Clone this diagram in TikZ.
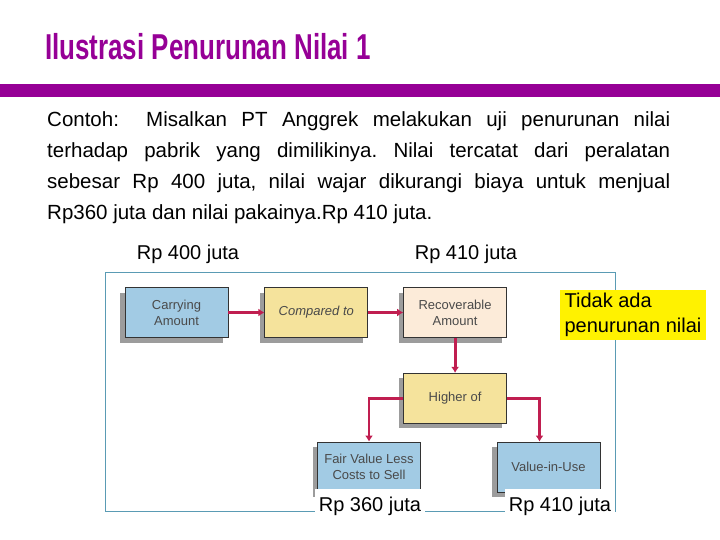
\documentclass[tikz,border=0pt]{standalone}
\usepackage{fontspec}
\setmainfont{Liberation Sans}
\newfontfamily\titlefont[FakeStretch=0.72]{Liberation Sans}
\usepackage{tikz}
\usetikzlibrary{arrows.meta, positioning, shadows}

\definecolor{ungu}{HTML}{960096}
\definecolor{merah}{HTML}{C01E50}
\definecolor{bingkai}{HTML}{5A9BB4}
\definecolor{biru}{HTML}{A2CBE4}
\definecolor{kuning}{HTML}{F5E39C}
\definecolor{krem}{HTML}{FCEBD9}
\definecolor{bayang}{HTML}{9C9C9C}
\definecolor{abu}{HTML}{4A4A4A}

\begin{document}
\begin{tikzpicture}[x=1pt, y=-1pt,
  box/.style={draw=black!80, line width=0.8pt, minimum width=103pt, minimum height=50pt,
              inner sep=0pt, align=center, text=abu, font=\fontsize{13}{16}\selectfont,
              drop shadow={shadow xshift=-5pt, shadow yshift=-5pt, opacity=1, fill=bayang}},
  arr/.style={draw=merah, line width=2.8pt, -{Latex[length=6pt, width=8pt]}},
  lbl/.style={inner sep=0pt, font=\fontsize{20}{24}\selectfont}]

\useasboundingbox (0,0) rectangle (720,540);

% judul
\node [anchor=base west, inner sep=0pt, text=ungu, font=\titlefont\bfseries\fontsize{36}{40}\selectfont] (judul) at (45,59.5) {Ilustrasi Penurunan Nilai 1};
\fill [ungu] (0,84) rectangle (720,97);

% teks contoh
\node [anchor=north west, inner sep=0pt, text width=623pt, align=justify,
       font=\fontsize{20.5}{31}\selectfont] (teks) at (47,111) {%
  \noindent\frenchspacing\hyphenpenalty=10000\tolerance=10000%
  \makebox[99pt][l]{Contoh:}Misalkan PT Anggrek melakukan uji penurunan nilai\linebreak
  terhadap pabrik yang dimilikinya. Nilai tercatat dari peralatan\linebreak
  sebesar Rp 400 juta, nilai wajar dikurangi biaya untuk menjual\linebreak
  Rp360 juta dan nilai pakainya.Rp 410 juta.\par};

% bingkai diagram
\draw [bingkai, line width=1pt] (105,272) rectangle (615,511);

\node [box, fill=biru                 ] (carry) at (176.5,312.5) {Carrying\\Amount};
\node [box, fill=kuning, right=36pt of carry, font=\fontsize{13}{16}\selectfont\itshape] (cmp) {Compared to};
\node [box, fill=krem,   right=35pt of cmp  ] (rec)  {Recoverable\\Amount};
\node [box, fill=kuning, below=35pt of rec  ] (high) {Higher of};
\node [box, fill=biru                 ] (fair) at (369,467) {Fair Value Less\\Costs to Sell};
\node [box, fill=biru                 ] (viu)  at (548.5,467) {Value-in-Use};

\path [arr] (carry) -- (cmp);
\path [arr] (cmp) -- (rec);
\path [arr] (rec) -- (high);
\path [arr] (high.west) -| (fair.north);
\path [arr] (high.east) -| ([xshift=-9pt]viu.north);

% keterangan nilai
\node [lbl] (l400) at (188,254) {Rp 400 juta};
\node [lbl] (l410) at (466,254) {Rp 410 juta};
\node [lbl, fill=yellow, inner xsep=5pt, inner ysep=3pt, align=left, font=\fontsize{20}{25}\selectfont] (tidak) at (633,315) {Tidak ada\\penurunan nilai};
\node [lbl, fill=white, minimum width=110pt, minimum height=34pt] (l360) at (370,506) {Rp 360 juta};
\node [lbl, fill=white, minimum width=110pt, minimum height=34pt] (l410b) at (560,506) {Rp 410 juta};

\end{tikzpicture}
\end{document}
